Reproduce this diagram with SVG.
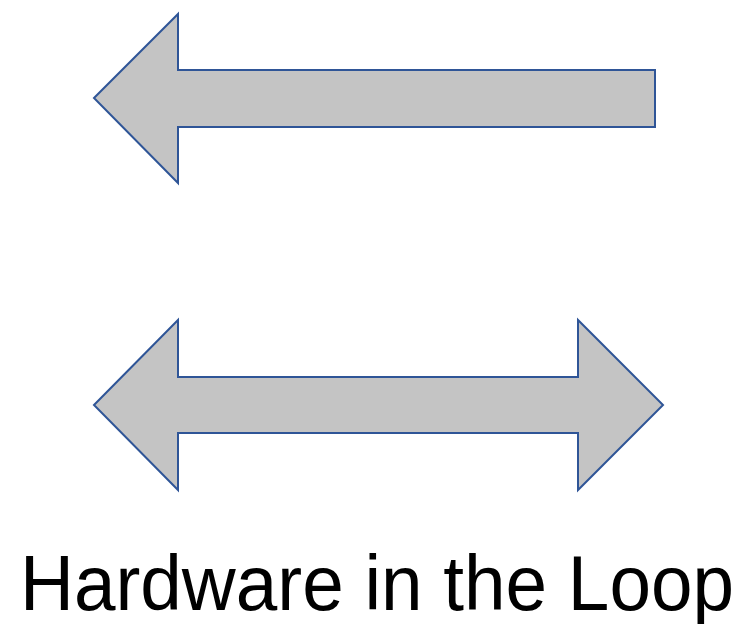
<svg xmlns="http://www.w3.org/2000/svg" width="736" height="624" viewBox="0 0 736 624">
<style>
.arrow{fill:#c4c4c4;stroke:#2f5597;stroke-width:2;stroke-linejoin:miter}
.label{font-family:"Liberation Sans",Arial,sans-serif;font-size:77px;fill:#000}
</style>
<rect width="736" height="624" fill="#fff"/>
<g id="left-arrow">
<polygon class="arrow" points="94,98 178,14 178,70 655,70 655,127 178,127 178,183"/>
</g>
<g id="double-arrow">
<polygon class="arrow" points="94,405 178,320 178,377 578,377 578,320 663,405 578,490 578,433 178,433 178,490"/>
</g>
<g id="caption">
<text class="label" x="20" y="610" textLength="714" lengthAdjust="spacingAndGlyphs">Hardware in the Loop</text>
</g>
</svg>
